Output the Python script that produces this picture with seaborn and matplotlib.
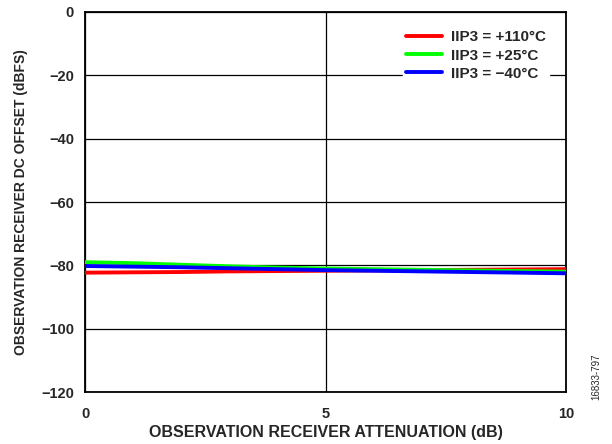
import numpy as np
import pandas as pd
import matplotlib
matplotlib.use('Agg')
import matplotlib.pyplot as plt
import seaborn as sns

# data
attenuation = [0, 1, 2, 3, 4, 5, 6, 7, 8, 9, 10]
offset_110 = [-82.3, -82.2, -82.1, -81.9, -81.8, -81.7, -81.6, -81.5, -81.4, -81.3, -81.2]
offset_25 = [-79.0, -79.3, -79.8, -80.3, -80.7, -81.0, -81.2, -81.4, -81.6, -81.8, -82.0]
offset_m40 = [-80.2, -80.4, -80.6, -80.9, -81.2, -81.5, -81.7, -81.9, -82.1, -82.3, -82.5]
labels = ['IIP3 = +110°C', 'IIP3 = +25°C', 'IIP3 = \u221240°C']

df = pd.concat([
    pd.DataFrame({'atten': attenuation, 'offset': offset_110, 'temp': labels[0]}),
    pd.DataFrame({'atten': attenuation, 'offset': offset_25, 'temp': labels[1]}),
    pd.DataFrame({'atten': attenuation, 'offset': offset_m40, 'temp': labels[2]}),
])

sns.set_style('white')
plt.rcParams['font.family'] = ['Liberation Sans', 'DejaVu Sans']
plt.rcParams['axes.unicode_minus'] = True

fig = plt.figure(figsize=(6.12, 4.44), dpi=100)
ax = fig.add_axes([0.139, 0.117, 0.786, 0.856])

palette = {labels[0]: '#ff0000', labels[1]: '#00ff00', labels[2]: '#0000ff'}
sns.lineplot(data=df, x='atten', y='offset', hue='temp', palette=palette,
             linewidth=2.8, ax=ax, zorder=3)

ax.set_xlim(0, 10)
ax.set_ylim(-120, 0)
ax.set_xticks([0, 5, 10])
ax.set_yticks(range(-120, 1, 20))
ax.set_yticklabels(['\u2212120', '\u2212100', '\u221280', '\u221260', '\u221240', '\u221220', '0'])
ax.tick_params(axis='x', length=0, labelsize=10.5, pad=11)
ax.tick_params(axis='y', length=0, labelsize=10.5, pad=8)
for t in ax.get_xticklabels() + ax.get_yticklabels():
    t.set_fontweight('bold')

ax.grid(True, color='black', linewidth=0.9)
for s in ax.spines.values():
    s.set_color('black')
    s.set_linewidth(1.3)

ax.set_xlabel('OBSERVATION RECEIVER ATTENUATION (dB)', fontsize=11.5, fontweight='bold', labelpad=3)
ax.set_ylabel('OBSERVATION RECEIVER DC OFFSET (dBFS)', fontsize=10, fontweight='bold', labelpad=9)

leg = ax.legend(loc='upper right', bbox_to_anchor=(0.98, 0.98), frameon=True, fancybox=False,
                edgecolor='white', framealpha=1, handlelength=2.3, handletextpad=0.6,
                borderpad=0.2, labelspacing=0.28, prop={'weight': 'bold', 'size': 11})
for line in leg.get_lines():
    line.set_linewidth(2.8)

fig.text(0.975, 0.10, '16833-797', rotation=90, fontsize=7, ha='center', va='bottom')

fig.savefig('out.png', dpi=100)
